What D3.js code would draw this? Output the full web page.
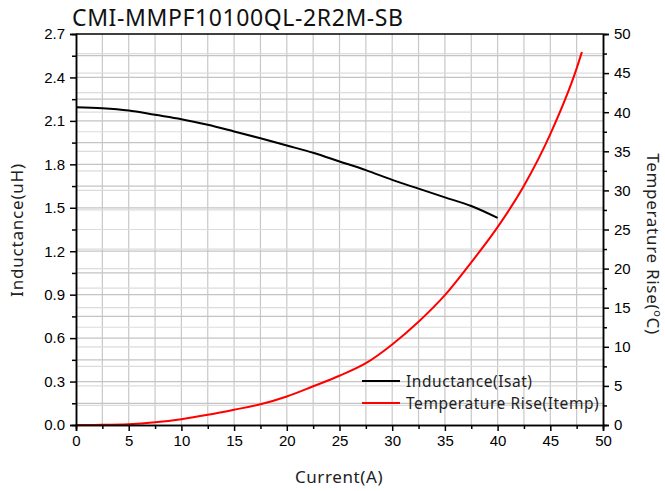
<!DOCTYPE html>
<html>
<head>
<meta charset="utf-8">
<script src="https://cdn.jsdelivr.net/npm/d3@7"></script>
<style>
  html, body { margin: 0; padding: 0; background: #fff; }
  svg { display: block; }
</style>
</head>
<body>
<svg id="chart" width="665" height="491"></svg>
<script>
// ---- data ----
const chartTitle = "CMI-MMPF10100QL-2R2M-SB";
const inductanceCurrent = [0, 2.5, 5, 7.5, 10, 12.5, 15, 17.5, 20, 22.5, 25, 27.5, 30, 32.5, 35, 37.5, 40];
const inductanceValues  = [2.195, 2.188, 2.172, 2.142, 2.112, 2.073, 2.027, 1.98, 1.93, 1.88, 1.82, 1.76, 1.693, 1.632, 1.572, 1.512, 1.43];
const tempCurrent = [0, 2.5, 5, 7.5, 10, 12.5, 15, 17.5, 20, 22.5, 25, 27.5, 30, 32.5, 35, 37.5, 40, 42.5, 45, 47.5, 48];
const tempValues  = [0, 0.02, 0.1, 0.35, 0.75, 1.3, 1.95, 2.65, 3.65, 4.95, 6.3, 7.9, 10.3, 13.2, 16.6, 20.8, 25.3, 30.6, 37.2, 45.6, 47.7];
const xTicks = [0, 5, 10, 15, 20, 25, 30, 35, 40, 45, 50];
const xMinorTicks = [2.5, 7.5, 12.5, 17.5, 22.5, 27.5, 32.5, 37.5, 42.5, 47.5];
const leftTicks = [0.0, 0.3, 0.6, 0.9, 1.2, 1.5, 1.8, 2.1, 2.4, 2.7];
const leftMinorTicks = [0.15, 0.45, 0.75, 1.05, 1.35, 1.65, 1.95, 2.25, 2.55];
const rightTicks = [0, 5, 10, 15, 20, 25, 30, 35, 40, 45, 50];
const rightMinorTicks = [2.5, 7.5, 12.5, 17.5, 22.5, 27.5, 32.5, 37.5, 42.5, 47.5];
const seriesNames = ["Inductance(Isat)", "Temperature Rise(Itemp)"];
const seriesColors = ["#000000", "#ff0000"];

// ---- layout ----
const svg = d3.select("#chart");
const L = 76, R = 603, T = 34, B = 425;
const titleFont = "'Noto Sans', 'Open Sans', sans-serif";
const tickFont = "'Liberation Sans', Arial, sans-serif";

const x = d3.scaleLinear().domain([0, 50]).range([L, R]);
const yL = d3.scaleLinear().domain([0, 2.7]).range([B, T]);
const yR = d3.scaleLinear().domain([0, 50]).range([B, T]);

// grid
const grid = svg.append("g");
xTicks.concat(xMinorTicks).forEach(v => {
  if (v === 0 || v === 50) return;
  grid.append("line").attr("x1", x(v)).attr("x2", x(v)).attr("y1", T).attr("y2", B)
    .attr("stroke", "#c8c8c8").attr("stroke-width", 1.2);
});
leftTicks.concat(leftMinorTicks).forEach(v => {
  if (v === 0 || v === 2.7) return;
  grid.append("line").attr("x1", L).attr("x2", R).attr("y1", yL(v)).attr("y2", yL(v))
    .attr("stroke", "#c4c4c4").attr("stroke-width", 1.2);
});
rightTicks.concat(rightMinorTicks).forEach(v => {
  if (v === 0 || v === 50) return;
  grid.append("line").attr("x1", L).attr("x2", R).attr("y1", yR(v)).attr("y2", yR(v))
    .attr("stroke", "#dcdcdc").attr("stroke-width", 1.2);
});

// lines
const lineL = d3.line().x((d, i) => x(inductanceCurrent[i])).y(d => yL(d)).curve(d3.curveMonotoneX);
const lineR = d3.line().x((d, i) => x(tempCurrent[i])).y(d => yR(d)).curve(d3.curveMonotoneX);
svg.append("path").attr("d", lineL(inductanceValues)).attr("fill", "none")
  .attr("stroke", seriesColors[0]).attr("stroke-width", 2);
svg.append("path").attr("d", lineR(tempValues)).attr("fill", "none")
  .attr("stroke", seriesColors[1]).attr("stroke-width", 2);

// axes
function styleAxis(g) {
  g.selectAll("text").attr("font-family", tickFont).attr("font-size", 15).attr("fill", "#000");
  g.selectAll("line").attr("stroke", "#000").attr("stroke-width", 1.5);
  g.select(".domain").attr("stroke", "#000").attr("stroke-width", 1.5);
}
const gx = svg.append("g").attr("transform", `translate(0,${B})`)
  .call(d3.axisBottom(x).tickValues(xTicks).tickFormat(d3.format("d")).tickSizeOuter(0).tickSize(6).tickPadding(4));
styleAxis(gx);
const gxm = svg.append("g").attr("transform", `translate(0,${B})`)
  .call(d3.axisBottom(x).tickValues(xMinorTicks).tickFormat("").tickSizeOuter(0).tickSize(4));
styleAxis(gxm);

const gl = svg.append("g").attr("transform", `translate(${L},0)`)
  .call(d3.axisLeft(yL).tickValues(leftTicks).tickFormat(d3.format(".1f")).tickSizeOuter(0).tickSize(6).tickPadding(5));
styleAxis(gl);
const glm = svg.append("g").attr("transform", `translate(${L},0)`)
  .call(d3.axisLeft(yL).tickValues(leftMinorTicks).tickFormat("").tickSizeOuter(0).tickSize(4));
styleAxis(glm);

const gr = svg.append("g").attr("transform", `translate(${R},0)`)
  .call(d3.axisRight(yR).tickValues(rightTicks).tickFormat(d3.format("d")).tickSizeOuter(0).tickSize(6).tickPadding(5));
styleAxis(gr);
const grm = svg.append("g").attr("transform", `translate(${R},0)`)
  .call(d3.axisRight(yR).tickValues(rightMinorTicks).tickFormat("").tickSizeOuter(0).tickSize(4));
styleAxis(grm);

// top border
svg.append("line").attr("x1", L).attr("x2", R).attr("y1", T).attr("y2", T)
  .attr("stroke", "#000").attr("stroke-width", 1.5);

// title
svg.append("text").attr("x", 72).attr("y", 26).text(chartTitle)
  .attr("font-family", titleFont).attr("font-size", 23).attr("letter-spacing", 0.6).attr("fill", "#111");

// axis labels
svg.append("text").attr("x", 339).attr("y", 483).attr("text-anchor", "middle")
  .text("Current(A)").attr("font-family", titleFont).attr("font-size", 17).attr("letter-spacing", 0.6).attr("fill", "#222");
svg.append("text").attr("transform", `translate(23,230) rotate(-90)`)
  .attr("text-anchor", "middle").text("Inductance(uH)")
  .attr("font-family", titleFont).attr("font-size", 17).attr("letter-spacing", 0.8).attr("fill", "#222");
const rl = svg.append("text").attr("transform", `translate(647,244) rotate(90)`)
  .attr("text-anchor", "middle").attr("font-family", titleFont).attr("font-size", 17)
  .attr("letter-spacing", 0.7).attr("fill", "#222");
rl.append("tspan").text("Temperature Rise(");
rl.append("tspan").text("o").attr("font-size", 11).attr("dy", -7);
rl.append("tspan").text("C)").attr("dy", 7);

// legend
const legend = svg.append("g");
seriesNames.forEach((name, i) => {
  const ly = 381 + i * 22;
  legend.append("line").attr("x1", 362).attr("x2", 400).attr("y1", ly).attr("y2", ly)
    .attr("stroke", seriesColors[i]).attr("stroke-width", 2);
  legend.append("text").attr("x", 406).attr("y", ly + 5.5).text(name)
    .attr("font-family", titleFont).attr("font-size", 15.5).attr("letter-spacing", 0.55).attr("fill", "#222");
});
</script>
</body>
</html>
